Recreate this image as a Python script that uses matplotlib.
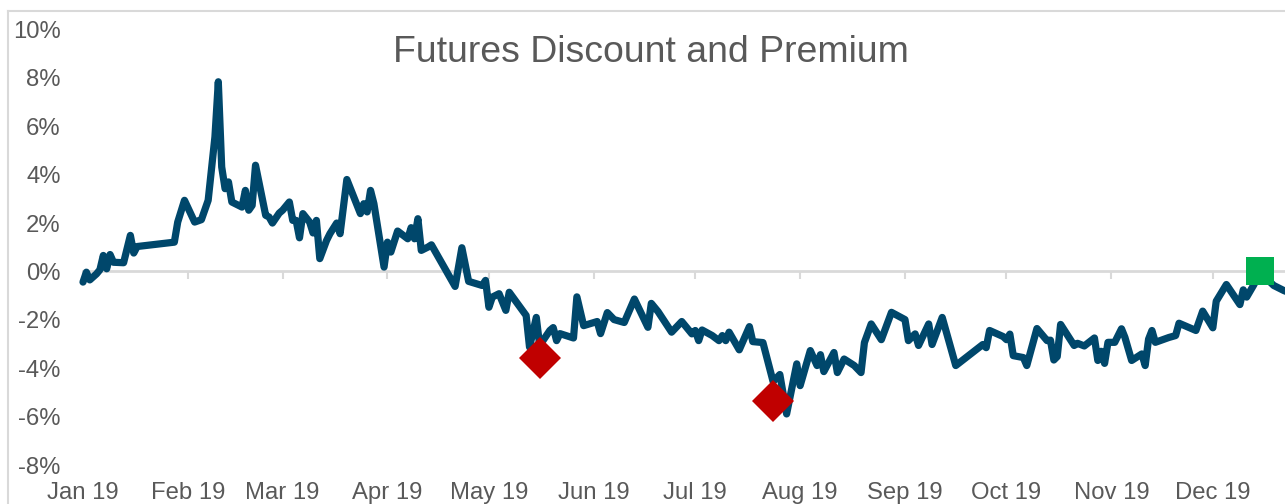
import matplotlib
matplotlib.use("Agg")
import matplotlib.pyplot as plt
import matplotlib.dates as mdates
from matplotlib.ticker import FuncFormatter, MultipleLocator
from matplotlib.lines import Line2D
import pandas as pd

plt.rcParams['font.family'] = ['Liberation Sans', 'DejaVu Sans']

title = "Futures Discount and Premium"

dates = [
    "2019-01-01", "2019-01-02", "2019-01-03", "2019-01-05", "2019-01-06", "2019-01-07",
    "2019-01-08", "2019-01-09", "2019-01-10", "2019-01-13", "2019-01-15", "2019-01-16",
    "2019-01-17", "2019-01-28", "2019-01-29", "2019-01-31", "2019-02-03", "2019-02-05",
    "2019-02-07", "2019-02-09", "2019-02-10", "2019-02-11", "2019-02-12", "2019-02-13",
    "2019-02-14", "2019-02-17", "2019-02-18", "2019-02-19", "2019-02-20", "2019-02-21",
    "2019-02-24", "2019-02-25", "2019-02-26", "2019-02-28", "2019-03-01", "2019-03-03",
    "2019-03-04", "2019-03-05", "2019-03-06", "2019-03-07", "2019-03-09", "2019-03-10",
    "2019-03-11", "2019-03-12", "2019-03-14", "2019-03-15", "2019-03-17", "2019-03-18",
    "2019-03-20", "2019-03-24", "2019-03-25", "2019-03-26", "2019-03-27", "2019-03-28",
    "2019-03-31", "2019-04-01", "2019-04-02", "2019-04-04", "2019-04-07", "2019-04-08",
    "2019-04-09", "2019-04-10", "2019-04-11", "2019-04-13", "2019-04-14", "2019-04-21",
    "2019-04-23", "2019-04-25", "2019-04-29", "2019-04-30", "2019-05-01", "2019-05-02",
    "2019-05-04", "2019-05-06", "2019-05-07", "2019-05-12", "2019-05-13", "2019-05-15",
    "2019-05-16", "2019-05-19", "2019-05-20", "2019-05-21", "2019-05-22", "2019-05-26",
    "2019-05-27", "2019-05-29", "2019-06-02", "2019-06-03", "2019-06-05", "2019-06-07",
    "2019-06-10", "2019-06-13", "2019-06-17", "2019-06-18", "2019-06-20", "2019-06-24",
    "2019-06-27", "2019-06-30", "2019-07-01", "2019-07-02", "2019-07-03", "2019-07-06",
    "2019-07-08", "2019-07-09", "2019-07-10", "2019-07-11", "2019-07-14", "2019-07-17",
    "2019-07-18", "2019-07-21", "2019-07-24", "2019-07-26", "2019-07-28", "2019-07-31",
    "2019-08-01", "2019-08-04", "2019-08-06", "2019-08-07", "2019-08-08", "2019-08-11",
    "2019-08-12", "2019-08-14", "2019-08-17", "2019-08-19", "2019-08-20", "2019-08-22",
    "2019-08-25", "2019-08-28", "2019-09-01", "2019-09-02", "2019-09-04", "2019-09-05",
    "2019-09-08", "2019-09-09", "2019-09-12", "2019-09-16", "2019-09-24", "2019-09-25",
    "2019-09-26", "2019-09-30", "2019-10-01", "2019-10-02", "2019-10-03", "2019-10-06",
    "2019-10-07", "2019-10-10", "2019-10-13", "2019-10-14", "2019-10-15", "2019-10-16",
    "2019-10-17", "2019-10-21", "2019-10-22", "2019-10-24", "2019-10-27", "2019-10-28",
    "2019-10-29", "2019-10-30", "2019-10-31", "2019-11-02", "2019-11-04", "2019-11-05",
    "2019-11-07", "2019-11-10", "2019-11-11", "2019-11-12", "2019-11-13", "2019-11-14",
    "2019-11-18", "2019-11-20", "2019-11-21", "2019-11-26", "2019-11-28", "2019-12-01",
    "2019-12-02", "2019-12-05", "2019-12-09", "2019-12-10", "2019-12-11", "2019-12-13",
    "2019-12-15", "2019-12-19", "2019-12-22", "2019-12-24",
]

values = [
    -0.44, -0.03, -0.35, -0.10, 0.07, 0.66,
    0.11, 0.70, 0.38, 0.36, 1.49, 0.76,
    1.03, 1.21, 2.04, 2.94, 2.04, 2.14,
    2.94, 5.56, 7.84, 4.32, 3.42, 3.70,
    2.87, 2.66, 3.35, 2.53, 2.73, 4.39,
    2.32, 2.25, 2.00, 2.41, 2.53, 2.87,
    2.11, 2.11, 1.39, 2.39, 2.04, 1.59,
    2.11, 0.53, 1.28, 1.56, 2.00, 1.56,
    3.80, 2.39, 2.80, 2.46, 3.35, 2.80,
    0.18, 1.21, 0.80, 1.67, 1.35, 1.81,
    1.35, 2.18, 0.87, 1.01, 1.10, -0.62,
    0.98, -0.41, -0.58, -0.37, -1.48, -1.06,
    -0.92, -1.61, -0.86, -1.82, -3.13, -1.90,
    -3.06, -2.44, -2.32, -2.86, -2.57, -2.75,
    -1.05, -2.24, -2.07, -2.57, -1.70, -1.99,
    -2.11, -1.14, -2.31, -1.32, -1.66, -2.51,
    -2.07, -2.58, -2.44, -2.86, -2.42, -2.65,
    -2.86, -2.65, -2.86, -2.51, -3.24, -2.28,
    -2.90, -2.94, -4.55, -4.26, -5.89, -3.82,
    -4.72, -3.27, -3.89, -3.44, -4.14, -3.35,
    -4.18, -3.62, -3.89, -4.18, -2.94, -2.17,
    -2.82, -1.69, -1.99, -2.86, -2.58, -3.06,
    -2.17, -3.02, -1.90, -3.89, -3.02, -3.15,
    -2.44, -2.69, -2.82, -2.59, -3.48, -3.56,
    -3.89, -2.36, -2.86, -2.84, -3.66, -3.52,
    -2.19, -3.06, -2.97, -3.08, -2.75, -3.68,
    -3.30, -3.80, -2.93, -2.93, -2.37, -2.72,
    -3.68, -3.41, -3.89, -2.80, -2.44, -2.93,
    -2.73, -2.65, -2.14, -2.44, -1.64, -2.33,
    -1.23, -0.54, -1.37, -0.76, -1.06, -0.58,
    -0.05, -0.58, -0.79, -0.90,
]

red_dates = ["2019-05-16", "2019-07-24"]
red_values = [-3.57, -5.34]
green_dates = ["2019-12-15"]
green_values = [0.0]

x_start = "2019-01-01"
x_end = "2019-12-22 08:00"
y_min, y_max, y_step = -8, 10, 2

W, H = 1285, 504
fig = plt.figure(figsize=(W / 100, H / 100), dpi=100)
fig.patch.set_facecolor("white")

# chart border (light gray), cropped at right/bottom
fig.add_artist(Line2D([8 / W, 8 / W], [0, 1 - 11 / H], transform=fig.transFigure,
                      color="#d9d9d9", lw=1.5))
fig.add_artist(Line2D([8 / W, 1], [1 - 11 / H, 1 - 11 / H], transform=fig.transFigure,
                      color="#d9d9d9", lw=1.5))

ax_left = 83 / W
ax_bottom = (H - 465) / H
ax_top = (H - 29.5) / H
ax = fig.add_axes([ax_left, ax_bottom, 1 - ax_left, ax_top - ax_bottom])
ax.set_facecolor("none")

xd = pd.to_datetime(dates)
ax.plot(xd, values, color="#00476B", lw=5.2, solid_capstyle="round",
        solid_joinstyle="round", clip_on=False, zorder=3)
ax.plot(pd.to_datetime(red_dates), red_values, linestyle="none", marker="D",
        markersize=21, color="#C00000", markeredgewidth=0, zorder=4, clip_on=False)
ax.plot(pd.to_datetime(green_dates), green_values, linestyle="none", marker="s",
        markersize=20.5, color="#00B050", markeredgewidth=0, zorder=4, clip_on=False)

ax.set_xlim(pd.Timestamp(x_start), pd.Timestamp(x_end))
ax.set_ylim(y_min, y_max)

text_color = "#595959"
ax.yaxis.set_major_locator(MultipleLocator(y_step))
ax.yaxis.set_major_formatter(FuncFormatter(lambda v, p: f"{v:.0f}%"))
ax.tick_params(axis="y", length=0, pad=16, labelsize=17.2, labelcolor=text_color)

for s in ["left", "right", "top"]:
    ax.spines[s].set_visible(False)
ax.spines["bottom"].set_position(("data", 0))
ax.spines["bottom"].set_color("#d9d9d9")
ax.spines["bottom"].set_linewidth(2)
ax.spines["bottom"].set_zorder(1)

month_loc = mdates.MonthLocator()
ax.xaxis.set_major_locator(month_loc)
ax.tick_params(axis="x", direction="out", length=6, width=1.5, color="#d9d9d9",
               labelbottom=False)

sec = ax.secondary_xaxis("bottom")
sec.xaxis.set_major_locator(mdates.MonthLocator())
sec.xaxis.set_major_formatter(mdates.DateFormatter("%b %y"))
sec.tick_params(axis="x", length=0, pad=12.5, labelsize=17.2, labelcolor=text_color)
sec.spines["bottom"].set_visible(False)

fig.text(651 / W, 1 - 53 / H, title, ha="center", va="center", fontsize=26.9,
         color=text_color)

fig.savefig("out.png", dpi=100, facecolor="white")
